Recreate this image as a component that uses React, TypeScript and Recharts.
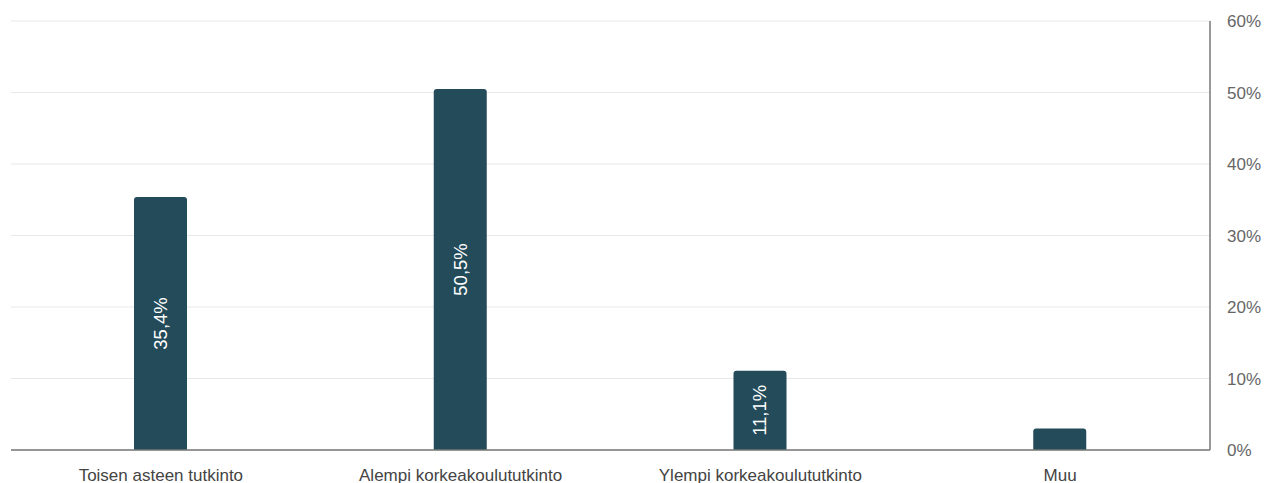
import React from "react";
import { BarChart, Bar, XAxis, YAxis, CartesianGrid, LabelList } from "recharts";

const categories = [
  "Toisen asteen tutkinto",
  "Alempi korkeakoulututkinto",
  "Ylempi korkeakoulututkinto",
  "Muu",
];
const values = [35.4, 50.5, 11.1, 3.0];
const yTicks = [0, 10, 20, 30, 40, 50, 60];

const data = categories.map((name, i) => ({ name, value: values[i] }));

const FONT = "Arial, 'Liberation Sans', sans-serif";

const fmt = (v: number) => v.toFixed(1).replace(".", ",") + "%";

const BarLabel = (props: any) => {
  const { x, y, width, height, value } = props;
  if (value < 5) return null;
  const cx = x + width / 2;
  const cy = y + height / 2;
  return (
    <text
      x={cx}
      y={cy}
      transform={`rotate(-90 ${cx} ${cy})`}
      textAnchor="middle"
      dominantBaseline="central"
      fill="#ffffff"
      fontSize={18.5}
      fontFamily={FONT}
    >
      {fmt(value)}
    </text>
  );
};

export default function App() {
  return (
    <div style={{ position: "absolute", left: 0, top: 0, background: "#fff" }}>
      <BarChart
        width={1272}
        height={483}
        data={data}
        margin={{ top: 21, right: 0, left: 11, bottom: 0 }}
      >
        <CartesianGrid vertical={false} stroke="#e8e8e8" strokeWidth={1} />
        <XAxis
          dataKey="name"
          height={33}
          axisLine={{ stroke: "#777", strokeWidth: 1.5 }}
          tickLine={false}
          tickMargin={13}
          interval={0}
          tick={{ fill: "#444", fontSize: 17, fontFamily: FONT }}
        />
        <YAxis
          orientation="right"
          width={62}
          domain={[0, 60]}
          ticks={yTicks}
          tickFormatter={(v: number) => v + "%"}
          axisLine={{ stroke: "#777", strokeWidth: 1.5 }}
          tickLine={false}
          tickMargin={11}
          tick={{ fill: "#666", fontSize: 17, fontFamily: FONT }}
        />
        <Bar
          dataKey="value"
          fill="#234b5a"
          barSize={53}
          radius={[3, 3, 0, 0]}
          isAnimationActive={false}
        >
          <LabelList dataKey="value" content={BarLabel} />
        </Bar>
      </BarChart>
    </div>
  );
}
